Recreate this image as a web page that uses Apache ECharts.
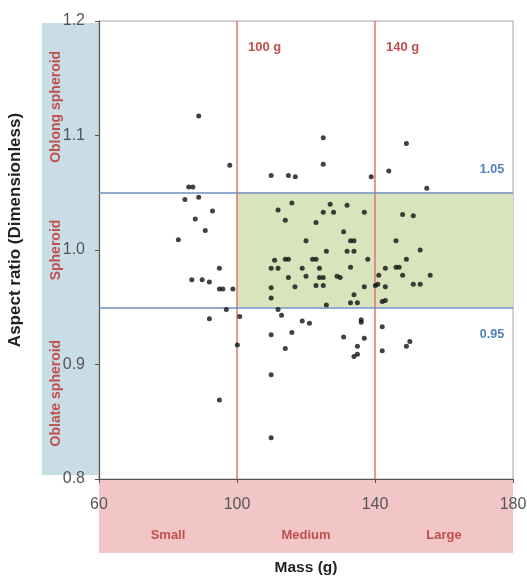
<!DOCTYPE html>
<html>
<head>
<meta charset="utf-8">
<script src="https://cdn.jsdelivr.net/npm/echarts@6/dist/echarts.min.js"></script>
<style>
html,body{margin:0;padding:0;background:#fff}
#main{width:527px;height:577px}
</style>
</head>
<body>
<div id="main"></div>
<script>
// mass (g) and aspect ratio of each fruit
var massValues = [
	88.9, 97.9, 86.0, 87.2, 84.9, 88.9, 92.9, 87.9, 90.8, 83.0,
	94.9, 86.9, 89.9, 92.0, 94.9, 95.9, 98.8, 96.9, 92.0, 100.8,
	100.1, 94.9, 109.9, 114.9, 116.9, 125.0, 125.0, 138.9, 144.0, 149.1,
	155.0, 115.9, 111.9, 114.0, 120.0, 122.9, 125.0, 127.0, 128.0, 131.9,
	130.9, 136.9, 132.9, 133.9, 131.9, 133.9, 125.9, 137.9, 132.9, 110.9,
	109.9, 111.9, 114.0, 114.9, 118.9, 121.9, 122.9, 123.9, 114.9, 120.0,
	123.9, 125.0, 129.0, 129.9, 109.9, 116.8, 122.9, 125.0, 109.9, 136.9,
	133.9, 132.9, 134.9, 125.9, 140.1, 140.8, 141.1, 143.0, 143.0, 142.1,
	143.0, 146.1, 148.0, 151.1, 146.1, 147.0, 149.1, 148.0, 153.1, 151.1,
	153.1, 156.0, 111.9, 112.9, 118.9, 121.0, 115.9, 109.9, 114.0, 109.9,
	109.9, 130.9, 136.0, 136.0, 136.9, 134.9, 133.9, 134.9, 142.1, 142.1,
	149.1, 150.1
];
var ratioValues = [
	1.117, 1.074, 1.055, 1.055, 1.044, 1.046, 1.034, 1.027, 1.017, 1.009,
	0.984, 0.974, 0.974, 0.972, 0.966, 0.966, 0.966, 0.948, 0.940, 0.942,
	0.917, 0.869, 1.065, 1.065, 1.064, 1.098, 1.075, 1.064, 1.069, 1.093,
	1.054, 1.041, 1.035, 1.026, 1.008, 1.024, 1.033, 1.040, 1.033, 1.039,
	1.016, 1.033, 1.008, 1.008, 0.999, 0.999, 0.999, 0.992, 0.985, 0.991,
	0.984, 0.984, 0.992, 0.992, 0.984, 0.992, 0.992, 0.984, 0.976, 0.977,
	0.976, 0.976, 0.977, 0.976, 0.967, 0.968, 0.969, 0.969, 0.958, 0.968,
	0.961, 0.954, 0.954, 0.952, 0.969, 0.970, 0.978, 0.984, 0.968, 0.955,
	0.956, 1.008, 1.031, 1.030, 0.985, 0.985, 0.992, 0.978, 1.000, 0.970,
	0.970, 0.978, 0.948, 0.943, 0.938, 0.936, 0.928, 0.926, 0.914, 0.891,
	0.836, 0.924, 0.939, 0.937, 0.923, 0.916, 0.907, 0.909, 0.933, 0.912,
	0.916, 0.920
];

var massTicks = [60, 100, 140, 180];
var massBounds = [100, 140];
var massBoundLabels = ['100 g', '140 g'];
var ratioBounds = [0.95, 1.05];
var ratioBoundLabels = ['0.95', '1.05'];

var sizeClasses = ['Small', 'Medium', 'Large'];
var sizeCentres = [80, 120, 160];
var shapeClasses = ['Oblong spheroid', 'Spheroid', 'Oblate spheroid'];
var shapeCentres = [1.125, 1.0, 0.875];

var FONT = '"Liberation Sans", Arial, sans-serif';
var RED = '#c0504d';
var BLUE = '#4f81bd';

var points = [];
for (var i = 0; i < massValues.length; i++) {
	points.push([massValues[i], ratioValues[i]]);
}

var lines = [];
massBounds.forEach(function (m) {
	lines.push({ xAxis: m, lineStyle: { color: '#e07474', width: 1.5, type: 'solid' } });
});
ratioBounds.forEach(function (r) {
	lines.push({ yAxis: r, lineStyle: { color: '#6f8fc0', width: 1.5, type: 'solid' } });
});

var myChart = echarts.init(document.getElementById('main'));

var option = {
	backgroundColor: '#fff',
	animation: false,
	grid: {
		left: 99, right: 14, top: 21, bottom: 98,
		outerBoundsMode: 'none',
		show: true, borderColor: '#a0a0a0', borderWidth: 1,
		backgroundColor: '#fff'
	},
	xAxis: {
		type: 'value',
		min: massTicks[0], max: massTicks[massTicks.length - 1], interval: 40,
		name: 'Mass (g)',
		nameLocation: 'middle',
		nameGap: 81,
		nameTextStyle: { fontFamily: FONT, fontSize: 15.5, fontWeight: 'bold', color: '#222' },
		axisLine: { show: true, lineStyle: { color: '#555', width: 1.2 } },
		axisTick: { show: true, length: 4, lineStyle: { color: '#555' } },
		axisLabel: { fontFamily: FONT, fontSize: 16, color: '#555', margin: 18 },
		splitLine: { show: false }
	},
	yAxis: {
		type: 'value',
		min: 0.8, max: 1.2, interval: 0.1,
		name: 'Aspect ratio (Dimensionless)',
		nameLocation: 'middle',
		nameGap: 75,
		nameTextStyle: { fontFamily: FONT, fontSize: 17, fontWeight: 'bold', color: '#222', padding: [0, 0, 0, 40] },
		axisLine: { show: true, lineStyle: { color: '#555', width: 1.2 } },
		axisTick: { show: true, length: 4, lineStyle: { color: '#555' } },
		axisLabel: {
			fontFamily: FONT, fontSize: 16, color: '#555', margin: 14,
			formatter: function (v) { return v.toFixed(1); }
		},
		splitLine: { show: false }
	},
	series: [{
		type: 'scatter',
		data: points,
		symbolSize: 5,
		itemStyle: { color: '#111' },
		z: 5,
		markArea: {
			silent: true,
			itemStyle: { color: '#d8e4bc' },
			data: [[
				{ xAxis: massBounds[0], yAxis: ratioBounds[0] },
				{ xAxis: massTicks[massTicks.length - 1], yAxis: ratioBounds[1] }
			]]
		},
		markLine: {
			silent: true,
			symbol: 'none',
			label: { show: false },
			data: lines
		}
	}]
};
myChart.setOption(option);

// bands and labels around the plot, placed through the axes
function px(x, y) {
	return myChart.convertToPixel({ gridIndex: 0 }, [x, y]);
}
var topLeft = px(massTicks[0], 1.2);
var bottomRight = px(massTicks[massTicks.length - 1], 0.8);

var graphics = [];
// blue band behind shape classes
graphics.push({
	type: 'rect', z: -10,
	shape: { x: 42, y: topLeft[1] + 2, width: topLeft[0] - 43, height: bottomRight[1] - topLeft[1] - 6 },
	style: { fill: '#c9dde6' }
});
// pink band behind size classes
graphics.push({
	type: 'rect', z: -10,
	shape: { x: topLeft[0], y: bottomRight[1], width: bottomRight[0] - topLeft[0], height: 74 },
	style: { fill: '#f2c6c6' }
});
sizeClasses.forEach(function (s, k) {
	var p = px(sizeCentres[k], 0.8);
	graphics.push({
		type: 'text', x: p[0], y: p[1] + 56,
		style: { text: s, fill: RED, font: 'bold 13px ' + FONT, align: 'center', verticalAlign: 'middle' }
	});
});
shapeClasses.forEach(function (s, k) {
	var p = px(60, shapeCentres[k]);
	graphics.push({
		type: 'text', x: 56, y: p[1], rotation: Math.PI / 2,
		style: { text: s, fill: RED, font: 'bold 14px ' + FONT, align: 'center', verticalAlign: 'middle' }
	});
});
massBounds.forEach(function (m, k) {
	var p = px(m, 1.2);
	graphics.push({
		type: 'text', x: p[0] + 11, y: p[1] + 26,
		style: { text: massBoundLabels[k], fill: RED, font: 'bold 13px ' + FONT, align: 'left', verticalAlign: 'middle' }
	});
});
ratioBounds.forEach(function (r, k) {
	var p = px(180, r);
	graphics.push({
		type: 'text', x: p[0] - 21, y: r < 1 ? p[1] + 27 : p[1] - 23,
		style: { text: ratioBoundLabels[k], fill: BLUE, font: 'bold 12.5px ' + FONT, align: 'center', verticalAlign: 'middle' }
	});
});
myChart.setOption({ graphic: graphics });
</script>
</body>
</html>
